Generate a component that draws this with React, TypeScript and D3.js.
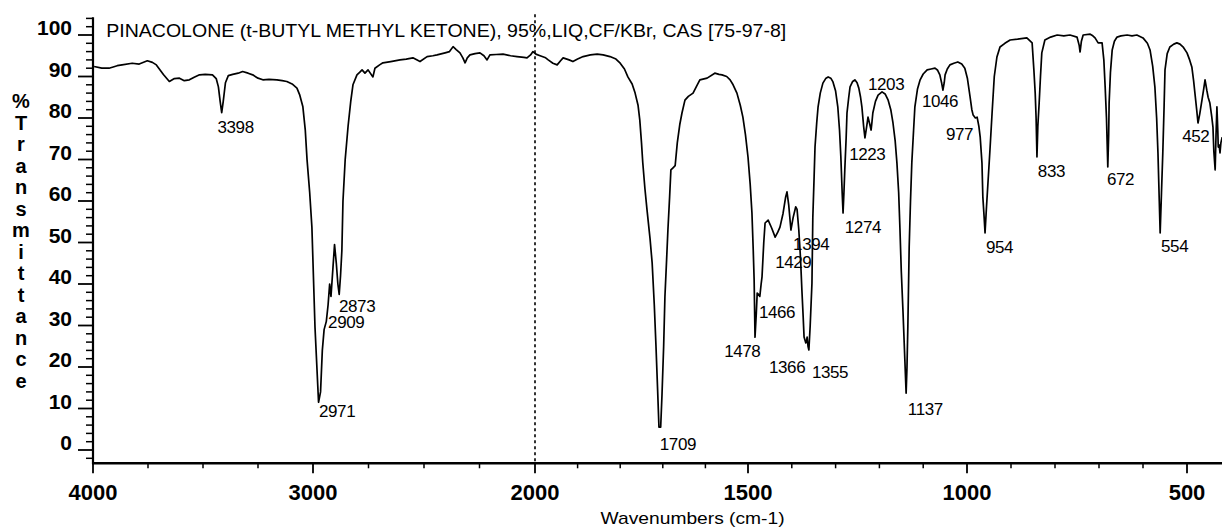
import React from "react";
import * as d3 from "d3";

// ---------------- DATA ----------------
const title = "PINACOLONE (t-BUTYL METHYL KETONE), 95%,LIQ,CF/KBr, CAS [75-97-8]";
const xAxisTitle = "Wavenumbers (cm-1)";
const yAxisTitle = "%Transmittance";

const wavenumbers: number[] = [
  3995, 3960, 3927, 3890, 3868, 3822, 3790, 3753, 3730, 3712, 3680, 3653, 3630, 3607, 3585, 3562, 3540, 3516, 3490, 3457,
  3440, 3430, 3422, 3415, 3408, 3398, 3385, 3365, 3340, 3320, 3295, 3274, 3250, 3228, 3200, 3164, 3140, 3119, 3095, 3073,
  3060, 3046, 3035, 3027, 3015, 3005, 2991, 2975, 2966, 2958, 2950, 2940, 2932, 2925, 2919, 2910, 2903, 2895, 2888, 2882,
  2876, 2870, 2865, 2855, 2842, 2830, 2820, 2802, 2790, 2779, 2766, 2752, 2730, 2721, 2700, 2685, 2650, 2608, 2580, 2550,
  2518, 2486, 2460, 2441, 2405, 2385, 2369, 2355, 2338, 2325, 2315, 2305, 2293, 2270, 2248, 2230, 2216, 2203, 2175, 2144,
  2110, 2081, 2050, 2036, 2020, 2009, 1998, 1988, 1975, 1969, 1958, 1948, 1940, 1934, 1920, 1911, 1900, 1887, 1870, 1854,
  1840, 1824, 1810, 1800, 1790, 1782, 1772, 1765, 1758, 1754, 1750, 1747, 1742, 1737, 1730, 1725, 1720, 1716, 1712, 1709,
  1705, 1702, 1698, 1695, 1691, 1688, 1684, 1681, 1676, 1671, 1666, 1660, 1655, 1648, 1640, 1629, 1620, 1613, 1596, 1578,
  1568, 1561, 1550, 1542, 1535, 1526, 1518, 1512, 1506, 1500, 1495, 1491, 1488, 1486, 1484, 1481, 1479, 1476, 1473, 1470,
  1468, 1464, 1461, 1454, 1446, 1438, 1432, 1427, 1420, 1414, 1411, 1407, 1402, 1397, 1391, 1388, 1384, 1380, 1377, 1374,
  1372, 1368, 1366, 1365, 1363, 1361, 1358, 1354, 1352, 1349, 1347, 1343, 1340, 1335, 1329, 1322, 1317, 1311, 1306, 1300,
  1295, 1291, 1288, 1285, 1283, 1281, 1279, 1276, 1274, 1270, 1267, 1261, 1256, 1251, 1247, 1243, 1240, 1236, 1233, 1229,
  1226, 1222, 1219, 1217, 1215, 1209, 1203, 1194, 1187, 1180, 1174, 1169, 1164, 1160, 1156, 1153, 1150, 1146, 1142, 1139,
  1137, 1135, 1132, 1129, 1126, 1122, 1119, 1113, 1107, 1100, 1091, 1082, 1073, 1067, 1062, 1058, 1055, 1052, 1050, 1045,
  1039, 1030, 1021, 1012, 1005, 999, 993, 989, 986, 981, 977, 973, 970, 966, 964, 961, 959, 956, 952, 948,
  943, 938, 932, 925, 914, 902, 885, 864, 852, 848, 845, 843, 841, 839, 836, 833, 830, 823, 810, 795,
  780, 766, 750, 745, 743, 740, 736, 720, 714, 709, 702, 693, 689, 686, 683, 680, 678, 677, 674, 670,
  665, 659, 650, 636, 625, 614, 600, 590, 584, 578, 573, 569, 566, 563, 561, 558, 555, 552, 550, 545,
  539, 530, 523, 516, 508, 500, 494, 489, 485, 482, 478, 475, 471, 466, 462, 459, 457, 455, 452, 448,
  444, 441, 439, 436, 434, 432, 430, 429, 427, 425, 423, 420,
];

const transmittance: number[] = [
  92.4, 92.0, 92.0, 92.6, 92.8, 93.2, 93.0, 93.8, 93.4, 92.8, 90.5, 88.8, 89.5, 89.6, 89.0, 89.2, 89.8, 90.4, 90.5, 90.4,
  89.5, 87.5, 84.0, 81.3, 84.0, 88.5, 90.2, 90.5, 90.8, 91.2, 90.8, 90.4, 89.6, 89.2, 89.3, 89.2, 89.0, 88.8, 88.2, 87.2,
  85.5, 82.7, 77.0, 69.9, 62.0, 53.7, 29.6, 11.5, 14.0, 24.0, 29.0, 31.0, 35.0, 40.0, 37.0, 44.0, 49.5, 45.0, 40.0, 37.5,
  42.0, 48.0, 60.0, 70.0, 78.0, 84.0, 88.0, 90.4, 91.0, 91.6, 90.8, 91.6, 89.9, 92.0, 92.8, 93.3, 93.6, 94.0, 94.2, 94.5,
  93.6, 94.8, 95.0, 95.2, 95.7, 96.0, 97.2, 96.5, 95.7, 94.5, 93.3, 94.5, 95.2, 95.5, 95.7, 95.0, 94.0, 95.2, 95.3, 95.4,
  95.0, 94.8, 94.6, 94.5, 95.2, 96.0, 95.4, 95.0, 94.5, 94.0, 93.2, 92.8, 93.8, 94.5, 94.0, 93.6, 94.2, 94.8, 95.2, 95.4,
  95.2, 94.8, 94.2, 93.2, 91.8, 89.9, 88.2, 86.0, 83.0, 79.5, 74.0, 69.2, 63.0, 57.8, 51.0, 45.1, 35.0, 25.0, 14.0, 5.5,
  5.5, 13.0, 25.0, 37.0, 46.0, 53.0, 61.0, 67.5, 68.0, 68.5, 74.0, 78.5, 81.2, 84.3, 85.2, 86.0, 87.8, 89.2, 89.6, 90.8,
  90.5, 90.4, 90.0, 89.2, 88.0, 86.0, 83.0, 80.2, 76.0, 70.6, 64.0, 57.1, 48.0, 41.0, 27.2, 33.0, 37.8, 37.5, 37.0, 40.0,
  41.7, 50.0, 54.7, 55.4, 53.5, 51.3, 52.5, 53.7, 57.0, 61.0, 62.2, 59.0, 53.0, 56.0, 58.6, 58.0, 53.0, 46.0, 38.6, 32.0,
  27.2, 25.8, 26.5, 27.2, 25.0, 24.1, 30.0, 40.2, 56.1, 66.0, 73.0, 79.0, 82.7, 86.0, 88.4, 89.6, 89.9, 89.6, 88.7, 86.5,
  82.7, 77.0, 70.6, 62.0, 57.1, 62.0, 67.5, 75.0, 81.2, 85.0, 87.5, 88.8, 89.2, 88.5, 87.2, 85.0, 82.7, 78.0, 75.2, 78.0,
  80.2, 78.5, 77.1, 79.0, 81.2, 84.0, 85.5, 86.3, 85.8, 84.3, 82.0, 78.8, 74.5, 69.2, 62.0, 53.0, 43.0, 33.0, 22.0, 13.7,
  20.0, 30.0, 48.9, 60.0, 69.2, 77.0, 82.7, 87.0, 89.2, 90.6, 91.6, 91.8, 92.0, 91.5, 90.4, 88.5, 86.7, 88.5, 90.4, 91.8,
  92.8, 93.2, 93.5, 93.0, 92.0, 89.5, 85.1, 82.0, 80.7, 80.0, 80.2, 78.0, 75.4, 69.2, 61.0, 56.0, 52.3, 58.0, 65.0, 72.0,
  81.2, 90.0, 94.7, 97.1, 98.0, 98.8, 99.0, 99.3, 98.1, 91.6, 86.0, 80.2, 70.6, 78.0, 83.6, 90.0, 95.7, 98.8, 99.5, 100.0,
  99.8, 100.0, 99.5, 97.5, 95.9, 98.5, 100.0, 100.2, 99.8, 99.3, 98.1, 98.1, 94.0, 87.5, 80.0, 68.2, 76.0, 83.6, 91.0, 96.4,
  98.5, 99.5, 99.8, 100.0, 99.8, 100.0, 99.3, 98.0, 96.4, 92.5, 87.5, 80.0, 71.6, 60.0, 52.3, 62.0, 71.6, 83.0, 91.6, 95.5,
  97.1, 97.8, 98.1, 97.8, 97.0, 95.7, 94.0, 92.3, 89.0, 86.0, 82.0, 78.8, 81.0, 84.3, 87.0, 89.2, 88.0, 86.7, 85.0, 83.6,
  80.5, 77.8, 72.0, 67.5, 76.0, 82.7, 77.0, 73.0, 73.5, 71.6, 74.0, 75.4,
];

const xMajorTicks: number[] = [4000, 3000, 2000, 1500, 1000, 500];
const xMinorTicks: number[] = [3750, 3500, 3250, 2750, 2500, 2250, 1900, 1800, 1700, 1600, 1400, 1300, 1200, 1100, 900, 800, 700, 600];
const yMajorTicks: number[] = [0, 10, 20, 30, 40, 50, 60, 70, 80, 90, 100];
const yMinorTicks: number[] = [-2, 2, 4, 6, 8, 12, 14, 16, 18, 22, 24, 26, 28, 32, 34, 36, 38, 42, 44, 46, 48, 52, 54, 56, 58, 62, 64, 66, 68, 72, 74, 76, 78, 82, 84, 86, 88, 92, 94, 96, 98, 102, 104];

// peak annotations: text, anchor wavenumber (left edge of text), anchor %T (baseline)
const peakLabels: string[] = ["3398", "2971", "2909", "2873", "1709", "1478", "1466", "1429", "1394", "1366", "1355", "1274", "1223", "1203", "1137", "1046", "977", "954", "833", "672", "554", "452"];
const peakLabelWn: number[] = [3434, 2973, 2932, 2883, 1707, 1556, 1475, 1438, 1397, 1452, 1354, 1279, 1269, 1226, 1135, 1103, 1048, 957, 839, 682, 559, 511];
const peakLabelT: number[] = [76.4, 8.0, 29.4, 33.3, 0.0, 22.4, 31.8, 43.9, 48.2, 18.6, 17.3, 52.3, 69.9, 86.7, 8.4, 82.7, 74.7, 47.5, 65.8, 63.9, 47.7, 74.2];

// ---------------- CHART ----------------
const W = 1222;
const H = 527;
const FONT = "'Liberation Sans', Arial, Helvetica, sans-serif";

export default function App() {
  const x = d3.scaleLinear().domain([4000, 3000, 2000, 1500, 1000, 500]).range([93, 313, 535, 748, 967, 1187]);
  const y = d3.scaleLinear().domain([0, 100]).range([450, 35]);

  const points: [number, number][] = wavenumbers.map((w, i) => [w, transmittance[i]]);
  const line = d3
    .line<[number, number]>()
    .x((d) => x(d[0]))
    .y((d) => y(d[1]));

  const axisY = y(-3.2);
  const axisX = x(4000);
  const yTop = y(104.3);
  const xEnd = x(420);

  const yLetters = yAxisTitle.split("");
  const letterTop = y(82.3);
  const letterStep = (y(15) - y(82.3)) / 13;

  return (
    <svg
      width={W}
      height={H}
      viewBox={`0 0 ${W} ${H}`}
      style={{ position: "absolute", left: 0, top: 0, background: "#fff" }}
      fontFamily={FONT}
    >
      <rect x={0} y={0} width={W} height={H} fill="#fff" />

      {/* title */}
      <text x={x(3940)} y={37} fontSize={19} textLength={680} lengthAdjust="spacingAndGlyphs" fill="#000">
        {title}
      </text>

      {/* dotted line at 2000 */}
      <line x1={x(2000)} x2={x(2000)} y1={y(105)} y2={axisY} stroke="#000" strokeWidth={1.6} strokeDasharray="3,3" />

      {/* y axis */}
      <line x1={axisX} x2={axisX} y1={yTop} y2={axisY + 1} stroke="#000" strokeWidth={2.2} />
      {yMajorTicks.map((t) => (
        <g key={"ym" + t}>
          <line x1={axisX - 15} x2={axisX} y1={y(t)} y2={y(t)} stroke="#000" strokeWidth={1.8} />
          <text x={72} y={y(t)} textAnchor="end" fontSize={21} fontWeight="bold" fill="#000">
            {t}
          </text>
        </g>
      ))}
      {yMinorTicks.map((t) => (
        <line key={"yn" + t} x1={axisX - 7} x2={axisX} y1={y(t)} y2={y(t)} stroke="#000" strokeWidth={1.5} />
      ))}

      {/* y axis title, stacked letters */}
      {yLetters.map((c, i) => (
        <text
          key={"yl" + i}
          x={21}
          y={letterTop + i * letterStep}
          textAnchor="middle"
          fontSize={20}
          fontWeight="bold"
          fill="#000"
        >
          {c}
        </text>
      ))}

      {/* x axis */}
      <line x1={axisX - 1} x2={xEnd} y1={axisY} y2={axisY} stroke="#000" strokeWidth={2.6} />
      {xMajorTicks.map((t) => (
        <g key={"xm" + t}>
          <line x1={x(t)} x2={x(t)} y1={axisY} y2={axisY + 10} stroke="#000" strokeWidth={1.8} />
          <text x={x(t)} y={500} textAnchor="middle" fontSize={22} fontWeight="bold" fill="#000">
            {t}
          </text>
        </g>
      ))}
      {xMinorTicks.map((t) => (
        <line key={"xn" + t} x1={x(t)} x2={x(t)} y1={axisY} y2={axisY + 5} stroke="#000" strokeWidth={1.5} />
      ))}
      <text x={x(1630)} y={524} textAnchor="middle" fontSize={17} textLength={184} lengthAdjust="spacingAndGlyphs" fill="#000">
        {xAxisTitle}
      </text>

      {/* spectrum */}
      <path d={line(points) || ""} fill="none" stroke="#000" strokeWidth={1.7} strokeLinejoin="round" />

      {/* peak labels */}
      {peakLabels.map((s, i) => (
        <text key={"pl" + i} x={x(peakLabelWn[i])} y={y(peakLabelT[i])} fontSize={17} fill="#000" letterSpacing={-0.4}>
          {s}
        </text>
      ))}
    </svg>
  );
}
